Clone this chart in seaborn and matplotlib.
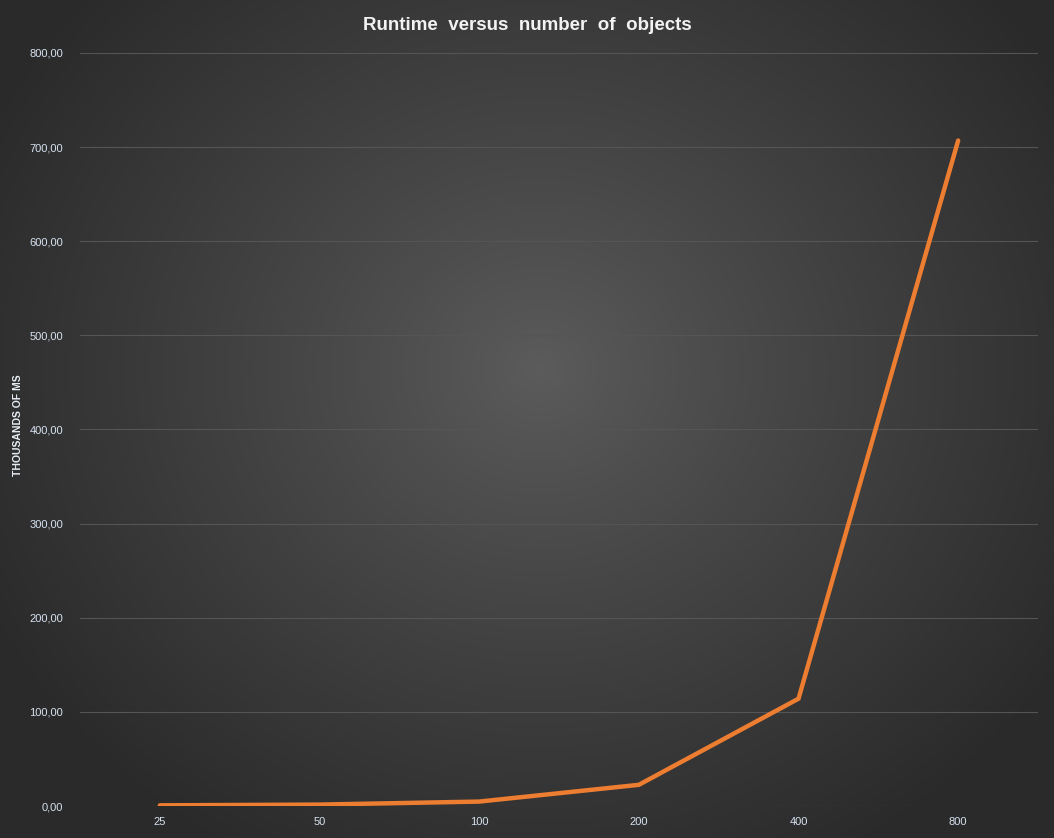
import numpy as np
import matplotlib
matplotlib.use("Agg")
import matplotlib.pyplot as plt
import seaborn as sns

# Data
objects = ["25", "50", "100", "200", "400", "800"]
runtime_k_ms = [0.7, 1.5, 4.7, 22.5, 114.0, 707.0]
y_ticks = [0, 100, 200, 300, 400, 500, 600, 700, 800]
y_tick_labels = ["0,00", "100,00", "200,00", "300,00", "400,00", "500,00", "600,00", "700,00", "800,00"]

sns.set_theme(style="dark")
plt.rcParams["font.family"] = ["Liberation Sans", "DejaVu Sans"]

W, H = 1054, 838
fig = plt.figure(figsize=(W / 100, H / 100), dpi=100)

# radial gradient background (Excel dark style)
bg = fig.add_axes([0, 0, 1, 1], zorder=-10)
yy, xx = np.mgrid[0:H, 0:W]
cx, cy = 540, 370
r = np.sqrt(((xx - cx) / 620.0) ** 2 + ((yy - cy) / 560.0) ** 2)
r = np.clip(r, 0, 1)
light, dark = 0.36, 0.165
shade = light - (light - dark) * r ** 0.9
rgb = np.dstack([shade, shade, shade])
bg.imshow(rgb, aspect="auto", interpolation="bilinear")
bg.axis("off")

ax = fig.add_axes([80 / W, 1 - 806 / H, (1038 - 80) / W, (806 - 53) / H])
ax.set_facecolor("none")

sns.lineplot(x=objects, y=runtime_k_ms, ax=ax, color="#ED7D31", linewidth=3.2,
             solid_capstyle="round", solid_joinstyle="miter", sort=False)

ax.set_xlim(-0.5, len(objects) - 0.5)
ax.set_ylim(0, 800)
ax.set_yticks(y_ticks)
ax.set_yticklabels(y_tick_labels)
ax.yaxis.grid(True, color="#555555", linewidth=0.8)
ax.xaxis.grid(False)
ax.set_axisbelow(True)
for s in ax.spines.values():
    s.set_visible(False)

tick_color = "#d6e2f0"
ax.tick_params(axis="both", colors=tick_color, labelsize=8, length=0)
ax.tick_params(axis="y", pad=12)
ax.tick_params(axis="x", pad=8)

ax.set_xlabel("")
ax.set_ylabel("")
fig.text(18 / W, 1 - 425 / H, "THOUSANDS OF MS", rotation=90, ha="center", va="center",
         color="#e8eef5", fontsize=7.5, fontweight="bold")

fig.text(527 / W, 1 - 25 / H, "Runtime  versus  number  of  objects", ha="center", va="center",
         color="#f2f2f2", fontsize=13.5, fontweight="bold")

fig.savefig("out.png", dpi=100)
